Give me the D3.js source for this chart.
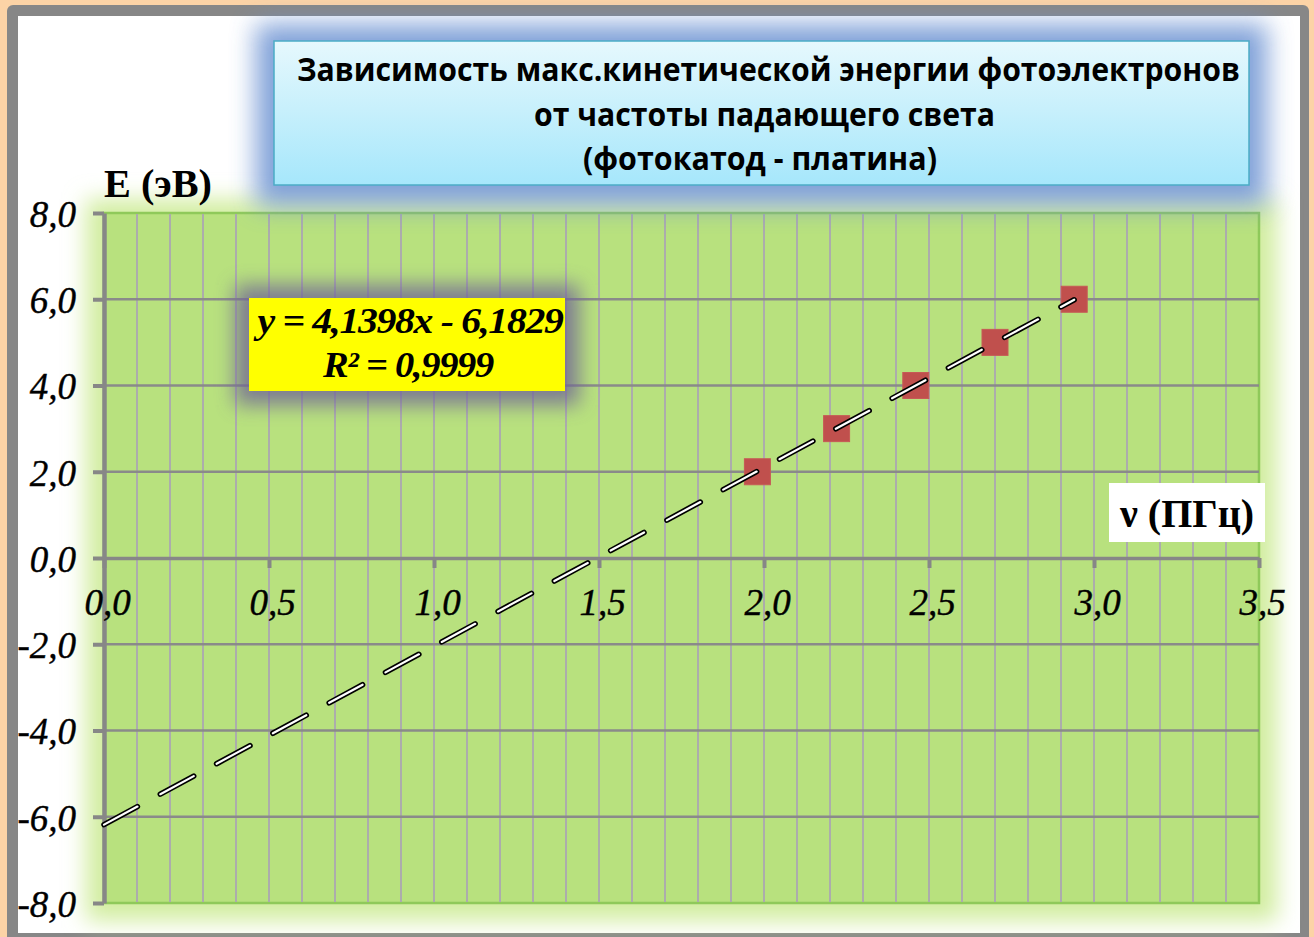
<!DOCTYPE html>
<html>
<head>
<meta charset="utf-8">
<script src="https://cdn.jsdelivr.net/npm/d3@7"></script>
<style>
  html, body { margin: 0; padding: 0; background: #fcd3a6; }
  svg { display: block; }
</style>
</head>
<body>
<svg id="chart" width="1314" height="937"></svg>
<script>
// Photoelectric effect: max kinetic energy of photoelectrons vs light frequency (platinum cathode)
const freqPHz   = [1.98, 2.22, 2.46, 2.70, 2.94];   // ν, PHz
const energyEV  = [2, 3, 4, 5, 6];                  // E, eV
const fitSlope = 4.1398;
const fitIntercept = -6.1829;
const fitR2 = 0.9999;

const xTickValues = [0, 0.5, 1, 1.5, 2, 2.5, 3, 3.5];
const yTickValues = [-8, -6, -4, -2, 0, 2, 4, 6, 8];
const xMinorGrid = d3.range(1, 35).map(i => i / 10);

const titleLines = [
  "Зависимость макс.кинетической энергии фотоэлектронов",
  "от частоты падающего света",
  "(фотокатод - платина)"
];
const yAxisTitle = "E (эВ)";
const xAxisTitle = "ν (ПГц)";

const ru = d3.formatLocale({ decimal: ",", thousands: " ", grouping: [3], currency: ["", ""], minus: "-" });
const fmt1 = ru.format(".1f");
const fmt4 = ru.format(".4f");

const svg = d3.select("#chart");
const W = 1314, H = 937;

const x = d3.scaleLinear().domain([0, 3.5]).range([104, 1259]);
const y = d3.scaleLinear().domain([-8, 8]).range([903, 213]);

const defs = svg.append("defs");
function blurFilter(id, sd) {
  defs.append("filter").attr("id", id)
    .attr("x", "-20%").attr("y", "-50%").attr("width", "140%").attr("height", "200%")
    .append("feGaussianBlur").attr("stdDeviation", sd);
}
blurFilter("glowPlot", 11);
blurFilter("glowEq", 10);
blurFilter("glowTitle", 13);

const titleGrad = defs.append("linearGradient").attr("id", "titleGrad")
  .attr("x1", 0).attr("y1", 0).attr("x2", 0).attr("y2", 1);
titleGrad.append("stop").attr("offset", "0%").attr("stop-color", "#e6f8fd");
titleGrad.append("stop").attr("offset", "100%").attr("stop-color", "#a6e7fb");

// outer frame
svg.append("rect").attr("x", 0).attr("y", 0).attr("width", W).attr("height", H).attr("fill", "#fcd3a6");
svg.append("rect").attr("x", 7).attr("y", 5).attr("width", 1302).attr("height", 945)
  .attr("rx", 6).attr("fill", "#878787");
svg.append("rect").attr("x", 18).attr("y", 16).attr("width", 1282).attr("height", 917).attr("fill", "#ffffff");

// plot area with soft glow
const [px0, px1] = x.range();
const [py1, py0] = y.range();
svg.append("rect")
  .attr("x", px0 - 18).attr("y", py0 - 14).attr("width", px1 - px0 + 36).attr("height", py1 - py0 + 32)
  .attr("fill", "#d2eda0").attr("filter", "url(#glowPlot)");
svg.append("rect")
  .attr("x", px0).attr("y", py0).attr("width", px1 - px0).attr("height", py1 - py0)
  .attr("fill", "#b8e17e").attr("stroke", "#8fc95a").attr("stroke-width", 2.5);

// grid
const grid = svg.append("g");
grid.selectAll("line.vgrid").data(xMinorGrid).join("line")
  .attr("class", "vgrid")
  .attr("x1", d => x(d)).attr("x2", d => x(d))
  .attr("y1", py0 + 1).attr("y2", py1 - 1)
  .attr("stroke", "#acacac").attr("stroke-width", 2);
grid.selectAll("line.hgrid").data(yTickValues.filter(v => v > -8 && v < 8 && v !== 0)).join("line")
  .attr("class", "hgrid")
  .attr("x1", px0).attr("x2", px1)
  .attr("y1", d => y(d)).attr("y2", d => y(d))
  .attr("stroke", "#8a8a8a").attr("stroke-width", 2.5);

// axes
const axisFont = "'Liberation Serif', 'Times New Roman', serif";
const yAxis = svg.append("g").attr("transform", `translate(${x(0)},0)`)
  .call(d3.axisLeft(y).tickValues(yTickValues).tickSize(11).tickSizeOuter(0).tickPadding(17).tickFormat(fmt1));
yAxis.select(".domain").attr("stroke", "#878787").attr("stroke-width", 4.5);
yAxis.selectAll(".tick line").attr("stroke", "#878787").attr("stroke-width", 4);
yAxis.selectAll(".tick text")
  .attr("font-family", axisFont).attr("font-style", "italic").attr("font-size", 37)
  .attr("fill", "#000").attr("stroke", "#000").attr("stroke-width", 0.4).attr("dy", "0.36em");

const xAxis = svg.append("g").attr("transform", `translate(0,${y(0)})`)
  .call(d3.axisBottom(x).tickValues(xTickValues).tickSize(10).tickSizeOuter(0).tickPadding(21).tickFormat(fmt1));
xAxis.select(".domain").attr("stroke", "#878787").attr("stroke-width", 3.5);
xAxis.selectAll(".tick line").attr("stroke", "#878787").attr("stroke-width", 4);
xAxis.selectAll(".tick text")
  .attr("font-family", axisFont).attr("font-style", "italic").attr("font-size", 37)
  .attr("fill", "#000").attr("stroke", "#000").attr("stroke-width", 0.4).attr("dx", 3);

// regression label box
const eqBox = { x: 249, y: 298, w: 316, h: 93 };
svg.append("rect")
  .attr("x", eqBox.x - 14).attr("y", eqBox.y - 13).attr("width", eqBox.w + 28).attr("height", eqBox.h + 27)
  .attr("fill", "#6f6496").attr("opacity", 0.8).attr("filter", "url(#glowEq)");
svg.append("rect")
  .attr("x", eqBox.x).attr("y", eqBox.y).attr("width", eqBox.w).attr("height", eqBox.h)
  .attr("fill", "#ffff00");
const eqText = svg.append("g")
  .attr("font-family", axisFont).attr("font-style", "italic").attr("font-weight", "bold")
  .attr("font-size", 36).attr("fill", "#000").attr("text-anchor", "middle");
const eqLine1 = `y = ${fmt4(fitSlope)}x - ${fmt4(-fitIntercept)}`;
const eqLine2 = `R² = ${fmt4(fitR2)}`;
eqText.append("text").attr("x", 410).attr("y", 333).attr("letter-spacing", -1.2).text(eqLine1)
  .attr("textLength", 305).attr("lengthAdjust", "spacingAndGlyphs");
eqText.append("text").attr("x", 408).attr("y", 377).attr("letter-spacing", -1.2).text(eqLine2)
  .attr("textLength", 170).attr("lengthAdjust", "spacingAndGlyphs");

// data markers
const pts = freqPHz.map((f, i) => ({ f, e: energyEV[i] }));
const ms = 26;
svg.append("g").selectAll("rect").data(pts).join("rect")
  .attr("x", d => x(d.f) - ms / 2).attr("y", d => y(d.e) - ms / 2)
  .attr("width", ms).attr("height", ms)
  .attr("fill", "#c0504d").attr("stroke", "#c65a56").attr("stroke-width", 1);

// linear trend line (double-outlined dashes)
const fitPts = [0, d3.max(freqPHz)].map(f => ({ f, e: fitSlope * f + fitIntercept }));
const fitLine = d3.line().x(d => x(d.f)).y(d => y(d.e));
svg.append("path").attr("d", fitLine(fitPts))
  .attr("fill", "none").attr("stroke", "#000").attr("stroke-width", 5.5)
  .attr("stroke-linecap", "round").attr("stroke-dasharray", "38,26");
svg.append("path").attr("d", fitLine(fitPts))
  .attr("fill", "none").attr("stroke", "#fff").attr("stroke-width", 2.2)
  .attr("stroke-linecap", "round").attr("stroke-dasharray", "38,26");

// axis titles
svg.append("rect").attr("x", 1109).attr("y", 483).attr("width", 156).attr("height", 59).attr("fill", "#fff");
svg.append("text").attr("x", 1187).attr("y", 527).attr("text-anchor", "middle")
  .attr("font-family", axisFont).attr("font-weight", "bold").attr("font-size", 40).attr("fill", "#000")
  .text(xAxisTitle);

// title box with blue glow
const tb = { x: 274, y: 41, w: 975, h: 144 };
svg.append("rect")
  .attr("x", tb.x - 18).attr("y", tb.y - 17).attr("width", tb.w + 36).attr("height", tb.h + 38)
  .attr("fill", "#6a91d2").attr("opacity", 0.85).attr("filter", "url(#glowTitle)");
svg.append("rect")
  .attr("x", tb.x).attr("y", tb.y).attr("width", tb.w).attr("height", tb.h)
  .attr("fill", "url(#titleGrad)").attr("stroke", "#4bacc6").attr("stroke-width", 1.5);
const titleSpan = [[297, 1240], [534, 995], [583, 937]];
const titleBase = [81, 126, 170];
svg.append("g").selectAll("text").data(titleLines).join("text")
  .attr("x", (d, i) => (titleSpan[i][0] + titleSpan[i][1]) / 2)
  .attr("y", (d, i) => titleBase[i])
  .attr("text-anchor", "middle")
  .attr("font-family", "'Open Sans', 'Noto Sans', sans-serif").attr("font-weight", "bold")
  .attr("font-size", 32).attr("fill", "#000")
  .attr("textLength", (d, i) => titleSpan[i][1] - titleSpan[i][0])
  .attr("lengthAdjust", "spacingAndGlyphs")
  .text(d => d);

svg.append("text").attr("x", 104).attr("y", 197)
  .attr("font-family", axisFont).attr("font-weight", "bold").attr("font-size", 40).attr("fill", "#000")
  .attr("textLength", 108).attr("lengthAdjust", "spacingAndGlyphs")
  .text(yAxisTitle);
</script>
</body>
</html>
